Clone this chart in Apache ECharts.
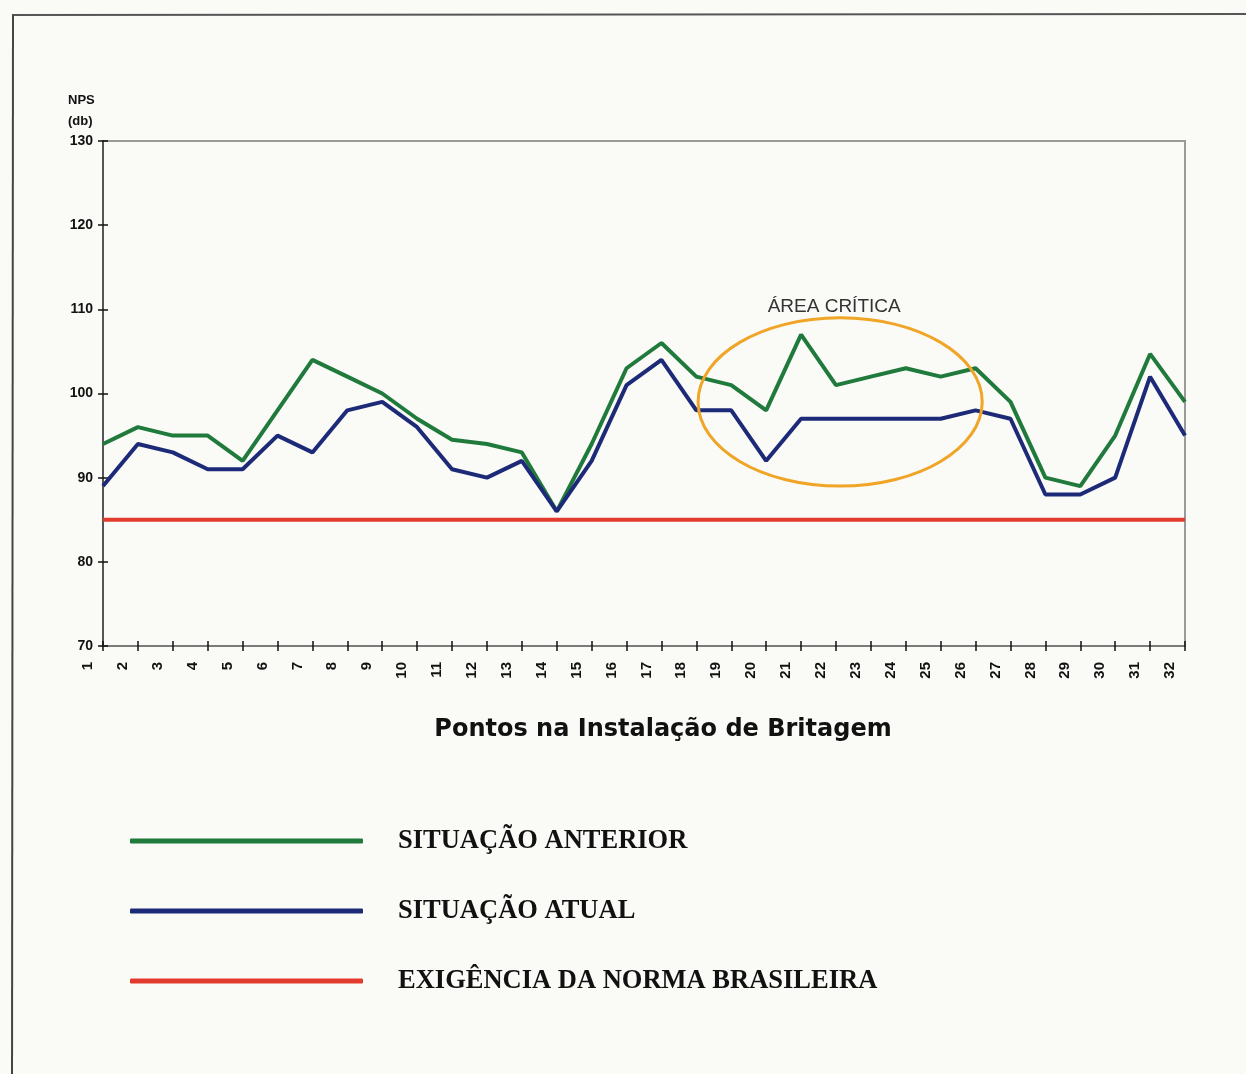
<!DOCTYPE html>
<html>
<head>
<meta charset="utf-8">
<script src="https://cdn.jsdelivr.net/npm/echarts@6/dist/echarts.min.js"></script>
<style>
html,body{margin:0;padding:0;background:#fafaf7;}
#chart{width:1246px;height:1074px;}
</style>
</head>
<body>
<div id="chart"></div>
<script>
// ---- data ----
const categories = ['1','2','3','4','5','6','7','8','9','10','11','12','13','14','15','16','17','18','19','20','21','22','23','24','25','26','27','28','29','30','31','32'];
const situacaoAnterior = [94,96,95,95,92,98,104,102,100,97,94.5,94,93,86,94,103,106,102,101,98,107,101,102,103,102,103,99,90,89,95,104.7,99];
const situacaoAtual    = [89,94,93,91,91,95,93,98,99,96,91,90,92,86,92,101,104,98,98,92,97,97,97,97,97,98,97,88,88,90,102,95];
const normaBrasileira  = [85,85,85,85,85,85,85,85,85,85,85,85,85,85,85,85,85,85,85,85,85,85,85,85,85,85,85,85,85,85,85,85];
const yTicks = {min:70, max:130, interval:10};
const seriesNames = ['SITUAÇÃO ANTERIOR','SITUAÇÃO ATUAL','EXIGÊNCIA DA NORMA BRASILEIRA'];
const colors = ['#1f7a3c','#1c2a78','#e23b2e'];

const chart = echarts.init(document.getElementById('chart'), null, {renderer:'canvas'});
const gridBox = {left:103, top:141, right:61, bottom:428};
const gridW = 1246 - gridBox.left - gridBox.right;
const gridH = 1074 - gridBox.top - gridBox.bottom;
const hiddenLine = {show:true, onZero:false, lineStyle:{color:'rgba(0,0,0,0)', width:1}};

const option = {
  backgroundColor:'#fafaf7',
  animation:false,
  grid:[Object.assign({show:true, borderColor:'#9a9a9a', borderWidth:2, backgroundColor:'transparent'}, gridBox)],
  xAxis:[{
    type:'category', data:categories, boundaryGap:false, position:'bottom',
    axisLine:{onZero:false, lineStyle:{color:'#7a7a7a', width:2}},
    axisTick:{show:true, inside:false, length:5, interval:0, lineStyle:{color:'#111', width:1.5}},
    axisLabel:{interval:0, rotate:90, margin:16, fontFamily:'Liberation Sans, Arial', fontWeight:'bold', fontSize:15, color:'#111', verticalAlign:'bottom', lineHeight:30},
    splitLine:{show:false},
    name:'Pontos na Instalação de Britagem', nameLocation:'middle', nameGap:72,
    nameTextStyle:{fontFamily:'DejaVu Sans', fontWeight:'bold', fontSize:24, color:'#111', padding:[0,0,0,38]}
  },{
    // mirror axis: draws the inner half of the "+" ticks on the bottom axis line
    type:'category', data:categories, boundaryGap:false, position:'top', offset:-gridH,
    axisLine:hiddenLine,
    axisTick:{show:true, inside:false, length:5, interval:0, lineStyle:{color:'#111', width:1.5}},
    axisLabel:{show:false}, splitLine:{show:false}
  }],
  yAxis:[{
    type:'value', min:yTicks.min, max:yTicks.max, interval:yTicks.interval, position:'left',
    axisLine:{show:true, onZero:false, lineStyle:{color:'#555', width:2}},
    axisTick:{show:true, length:5, lineStyle:{color:'#111', width:1.5}},
    axisLabel:{margin:10, fontFamily:'Liberation Sans, Arial', fontWeight:'bold', fontSize:14, color:'#111'},
    splitLine:{show:false}
  },{
    // mirror axis: draws the inner half of the "+" ticks on the left axis line
    type:'value', min:yTicks.min, max:yTicks.max, interval:yTicks.interval, position:'right', offset:-gridW,
    axisLine:hiddenLine,
    axisTick:{show:true, inside:false, length:5, lineStyle:{color:'#111', width:1.5}},
    axisLabel:{show:false}, splitLine:{show:false}
  }],
  legend:{
    orient:'vertical', left:125, top:821,
    data:seriesNames,
    icon:'roundRect', itemWidth:233, itemHeight:5, itemGap:40,
    textStyle:{fontFamily:'Liberation Serif, Times New Roman, serif', fontWeight:'bold', fontSize:26.5, color:'#111', lineHeight:30, padding:[0,0,0,30]},
    selectedMode:false
  },
  series:[
    {name:seriesNames[2], type:'line', data:normaBrasileira, symbol:'none', lineStyle:{color:colors[2], width:4}, itemStyle:{color:colors[2]}, z:2},
    {name:seriesNames[0], type:'line', data:situacaoAnterior, symbol:'none', lineStyle:{color:colors[0], width:4}, itemStyle:{color:colors[0]}, z:3},
    {name:seriesNames[1], type:'line', data:situacaoAtual, symbol:'none', lineStyle:{color:colors[1], width:4}, itemStyle:{color:colors[1]}, z:4}
  ]
};
chart.setOption(option);

// annotation: ellipse around the critical area (positioned in data coordinates)
const p21 = chart.convertToPixel({xAxisIndex:0, yAxisIndex:0}, [21, 99]);
const p22 = chart.convertToPixel({xAxisIndex:0, yAxisIndex:0}, [22, 89]);
const step = p22[0] - p21[0];
const cx = p21[0] + 0.12*step;
const cy = p21[1];
const rx = 4.07*step;
const ry = (p22[1] - p21[1]);
chart.setOption({
  graphic:[
    {type:'ellipse', shape:{cx:cx, cy:cy, rx:rx, ry:ry}, style:{fill:'none', stroke:'#f0a526', lineWidth:3}, z:10},
    {type:'text', x:cx-6, y:cy-ry-11, style:{text:'ÁREA CRÍTICA', fill:'#333', font:'19px "Liberation Sans", Arial', textAlign:'center', textVerticalAlign:'middle'}, z:10},
    {type:'text', left:68, top:90, style:{text:'NPS\n(db)', fill:'#111', font:'bold 13px "Liberation Sans", Arial', lineHeight:21}, z:10},
    {type:'line', shape:{x1:12, y1:15, x2:1246, y2:14}, style:{stroke:'#555', lineWidth:2}, z:10},
    {type:'line', shape:{x1:13, y1:15, x2:12, y2:1074}, style:{stroke:'#444', lineWidth:2}, z:10}
  ]
});
</script>
</body>
</html>
